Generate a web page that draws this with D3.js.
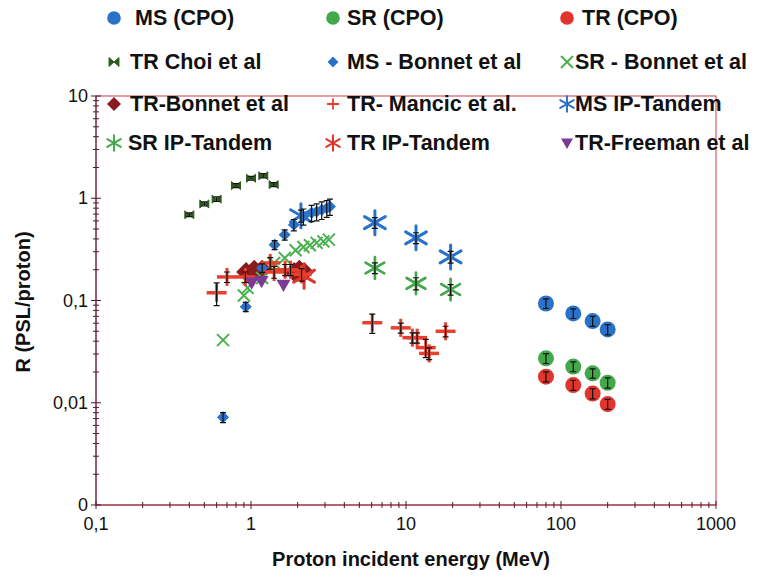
<!DOCTYPE html>
<html><head><meta charset="utf-8">
<script src="https://cdn.jsdelivr.net/npm/d3@7"></script>
<style>body{margin:0;background:#fff}svg{display:block}</style>
</head><body><svg id="c" width="757" height="577"></svg>
<script>
// ---- data ----
const xTicks = [0.1, 1, 10, 100, 1000];
const xTickLabels = ["0,1", "1", "10", "100", "1000"];
const yTicks = [0.001, 0.01, 0.1, 1, 10];
const yTickLabels = ["0", "0,01", "0,1", "1", "10"];

const cpoE = [80, 120, 160, 200];
const cpoMS = [0.0935, 0.0747, 0.0629, 0.0521];
const cpoMSErr = [0.010, 0.008, 0.007, 0.006];
const cpoSR = [0.0272, 0.0226, 0.0194, 0.0157];
const cpoSRErr = [0.003, 0.0025, 0.002, 0.0018];
const cpoTR = [0.0180, 0.0149, 0.0123, 0.0097];
const cpoTRErr = [0.002, 0.0017, 0.0014, 0.0011];

const choiE = [0.4, 0.5, 0.6, 0.8, 1.0, 1.2, 1.4];
const choiTR = [0.69, 0.88, 0.98, 1.33, 1.57, 1.66, 1.36];
const choiErr = [0.03, 0.04, 0.05, 0.06, 0.07, 0.08, 0.06];

const bonnetMSE = [0.66, 0.925, 1.18, 1.42, 1.65, 1.89, 2.18, 2.46, 2.65, 2.86, 3.08, 3.23];
const bonnetMS = [0.0072, 0.087, 0.208, 0.35, 0.44, 0.55, 0.665, 0.72, 0.74, 0.77, 0.80, 0.83];
const bonnetMSErr = [0.0008, 0.009, 0.02, 0.035, 0.05, 0.07, 0.12, 0.13, 0.14, 0.15, 0.15, 0.15];

const bonnetSRE = [0.66, 0.9, 0.95, 1.18, 1.41, 1.65, 1.94, 2.18, 2.40, 2.65, 2.93, 3.18];
const bonnetSR = [0.041, 0.112, 0.133, 0.166, 0.233, 0.26, 0.31, 0.334, 0.347, 0.366, 0.379, 0.394];

const bonnetTRE = [0.93, 1.05, 1.18, 1.9, 2.05, 2.2];
const bonnetTR = [0.19, 0.20, 0.20, 0.19, 0.20, 0.19];

const mancicE = [0.6, 0.7, 0.92, 1.33, 1.41, 1.66, 1.8, 2.12, 6.06, 9.25, 11.0, 11.8, 13.4, 14.1, 18.0];
const mancicTR = [0.119, 0.17, 0.17, 0.233, 0.19, 0.2, 0.2, 0.18, 0.0606, 0.054, 0.0433, 0.0433, 0.0346, 0.0304, 0.050];
const mancicErr = [0.03, 0.02, 0.02, 0.03, 0.025, 0.025, 0.025, 0.025, 0.013, 0.006, 0.005, 0.005, 0.007, 0.004, 0.006];

const tandemMSE = [2.1, 6.3, 11.6, 19.4];
const tandemMS = [0.675, 0.577, 0.41, 0.267];
const tandemMSErr = [0.09, 0.07, 0.05, 0.035];
const tandemSRE = [6.3, 11.6, 19.4];
const tandemSR = [0.208, 0.147, 0.128];
const tandemSRErr = [0.025, 0.02, 0.015];
const tandemTRE = [2.2];
const tandemTR = [0.173];

const freemanE = [1.01, 1.17, 1.62];
const freemanTR = [0.149, 0.154, 0.142];

const legendLabels = ["MS (CPO)", "SR (CPO)", "TR (CPO)",
  "TR Choi et al", "MS - Bonnet et al", "SR - Bonnet et al",
  "TR-Bonnet et al", "TR- Mancic et al.", "MS IP-Tandem",
  "SR IP-Tandem", "TR IP-Tandem", "TR-Freeman et al"];

// ---- setup ----
const svg = d3.select("#c");
const L = 96, R = 716, T = 96, B = 505;
const x = d3.scaleLog().domain([0.1, 1000]).range([L, R]);
const y = d3.scaleLog().domain([0.001, 10]).range([B, T]);

const C = {
  blue: "#2a72c8", green: "#42a84a", red: "#e0342c",
  dkgreen: "#2e5a1f", dkred: "#8a1a1e", purple: "#7a3a96",
  cross: "#e8402e", xgreen: "#4cb050"
};

function sym(g, type, col, s) {
  s = s || 1;
  if (type === "circle") {
    g.append("circle").attr("r", 8 * s).attr("fill", col);
  } else if (type === "bowtie") {
    g.append("path").attr("d", `M${-4.5*s},${-4*s}L${4.5*s},${4*s}L${4.5*s},${-4*s}L${-4.5*s},${4*s}Z`)
      .attr("fill", col).attr("stroke", col).attr("stroke-width", 1);
  } else if (type === "diamond") {
    const r = 6 * s;
    g.append("path").attr("d", `M0,${-r}L${r},0L0,${r}L${-r},0Z`).attr("fill", col);
  } else if (type === "bigdiamond") {
    const r = 10 * s;
    g.append("path").attr("d", `M0,${-r}L${r},0L0,${r}L${-r},0Z`).attr("fill", col);
  } else if (type === "x") {
    const r = 6 * s;
    g.append("path").attr("d", `M${-r},${-r}L${r},${r}M${-r},${r}L${r},${-r}`)
      .attr("stroke", col).attr("stroke-width", 2).attr("fill", "none");
  } else if (type === "plus") {
    g.append("path").attr("d", `M${-10*s},0L${10*s},0`).attr("stroke", col).attr("stroke-width", 3.5 * s);
    g.append("path").attr("d", `M0,${-9*s}L0,${9*s}`).attr("stroke", col).attr("stroke-width", 3 * s);
  } else if (type === "asterisk") {
    const r = 12 * s;
    const a = Math.cos(Math.PI / 6) * r, b = Math.sin(Math.PI / 6) * r;
    g.append("path").attr("d", `M0,${-r}L0,${r}M${-a},${-b}L${a},${b}M${-a},${b}L${a},${-b}`)
      .attr("stroke", col).attr("stroke-width", 3 * s).attr("fill", "none").attr("stroke-linecap", "round");
  } else if (type === "tri") {
    const r = 7 * s;
    g.append("path").attr("d", `M${-r},${-r*0.75}L${r},${-r*0.75}L0,${r}Z`).attr("fill", col);
  }
}

// frame
svg.append("rect").attr("x", L).attr("y", T).attr("width", R - L).attr("height", B - T)
  .attr("fill", "none").attr("stroke", "#cc3a4a").attr("stroke-width", 1);

// axes with crossing ticks
const axC = "#4a1a34";
svg.append("line").attr("x1", L).attr("x2", L).attr("y1", T).attr("y2", B).attr("stroke", axC);
svg.append("line").attr("x1", L).attr("x2", R).attr("y1", B).attr("y2", B).attr("stroke", "#8a2a44");
const minorX = [], minorY = [];
for (let d = -1; d < 3; d++) for (let k = 2; k <= 9; k++) minorX.push(k * Math.pow(10, d));
for (let d = -3; d < 1; d++) for (let k = 2; k <= 9; k++) minorY.push(k * Math.pow(10, d));
minorX.forEach(v => svg.append("line").attr("x1", x(v)).attr("x2", x(v)).attr("y1", B - 3).attr("y2", B + 3).attr("stroke", axC));
xTicks.forEach(v => svg.append("line").attr("x1", x(v)).attr("x2", x(v)).attr("y1", B - 4).attr("y2", B + 4).attr("stroke", axC));
minorY.forEach(v => svg.append("line").attr("x1", L - 3).attr("x2", L + 3).attr("y1", y(v)).attr("y2", y(v)).attr("stroke", axC));
yTicks.forEach(v => svg.append("line").attr("x1", L - 5).attr("x2", L + 5).attr("y1", y(v)).attr("y2", y(v)).attr("stroke", axC));

const font = "'Liberation Sans', Arial, sans-serif";
xTicks.forEach((v, i) => svg.append("text").attr("x", x(v)).attr("y", B + 25).attr("text-anchor", "middle")
  .attr("font-family", font).attr("font-size", 18).attr("fill", "#111").text(xTickLabels[i]));
yTicks.forEach((v, i) => svg.append("text").attr("x", L - 8).attr("y", y(v) + 6).attr("text-anchor", "end")
  .attr("font-family", font).attr("font-size", 18).attr("fill", "#111").text(yTickLabels[i]));

svg.append("text").attr("x", 411).attr("y", 566).attr("text-anchor", "middle").attr("font-family", font)
  .attr("font-weight", "bold").attr("font-size", 20).attr("fill", "#111").text("Proton incident energy (MeV)");
svg.append("text").attr("transform", "translate(30,302) rotate(-90)").attr("text-anchor", "middle").attr("font-family", font)
  .attr("font-weight", "bold").attr("font-size", 20).attr("fill", "#111").text("R (PSL/proton)");

// series
const series = [
  { e: cpoE, v: cpoMS, err: cpoMSErr, type: "circle", col: C.blue },
  { e: cpoE, v: cpoSR, err: cpoSRErr, type: "circle", col: C.green },
  { e: cpoE, v: cpoTR, err: cpoTRErr, type: "circle", col: C.red },
  { e: choiE, v: choiTR, err: choiErr, type: "bowtie", col: C.dkgreen },
  { e: bonnetTRE, v: bonnetTR, err: null, type: "bigdiamond", col: C.dkred },
  { e: bonnetMSE, v: bonnetMS, err: bonnetMSErr, type: "diamond", col: C.blue },
  { e: bonnetSRE, v: bonnetSR, err: null, type: "x", col: C.xgreen },
  { e: tandemMSE, v: tandemMS, err: tandemMSErr, type: "asterisk", col: C.blue },
  { e: tandemSRE, v: tandemSR, err: tandemSRErr, type: "asterisk", col: C.green, s: 0.9 },
  { e: tandemTRE, v: tandemTR, err: null, type: "asterisk", col: C.red },
  { e: mancicE, v: mancicTR, err: mancicErr, type: "plus", col: C.cross },
  { e: freemanE, v: freemanTR, err: null, type: "tri", col: C.purple }
];
const plot = svg.append("g");
series.forEach(s => {
  s.e.forEach((e, i) => {
    const g = plot.append("g").attr("transform", `translate(${x(e)},${y(s.v[i])})`);
    sym(g, s.type, s.col, s.s || 1);
  });
});
series.forEach(s => {
  if (!s.err) return;
  s.e.forEach((e, i) => {
    const cx = x(e), y1 = y(s.v[i] + s.err[i]), y2 = y(s.v[i] - s.err[i]);
    plot.append("path").attr("d", `M${cx},${y1}L${cx},${y2}M${cx - 3},${y1}L${cx + 3},${y1}M${cx - 3},${y2}L${cx + 3},${y2}`)
      .attr("stroke", "#111").attr("stroke-width", 1.2).attr("fill", "none");
  });
});

// legend
const legTypes = ["circle", "circle", "circle", "bowtie", "diamond", "x", "bigdiamond", "plus", "asterisk", "asterisk", "asterisk", "tri"];
const legCols = [C.blue, C.green, C.red, C.dkgreen, C.blue, C.xgreen, C.dkred, C.cross, C.blue, C.green, C.red, C.purple];
const legScale = [0.85, 0.85, 0.85, 1.1, 0.9, 1, 0.7, 0.6, 0.65, 0.65, 0.65, 0.85];
const colX = [114, 333, 567], rowY = [18, 62, 104, 143];
const textX = [[135, 347, 582], [130, 347, 575], [130, 347, 575], [128, 347, 575]];
legendLabels.forEach((lab, i) => {
  const r = Math.floor(i / 3), c = i % 3;
  const g = svg.append("g").attr("transform", `translate(${colX[c]},${rowY[r]})`);
  sym(g, legTypes[i], legCols[i], legScale[i]);
  svg.append("text").attr("x", textX[r][c]).attr("y", rowY[r] + 7).attr("font-family", font)
    .attr("font-weight", "bold").attr("font-size", 21.5).attr("fill", "#111").text(lab);
});
</script></body></html>
